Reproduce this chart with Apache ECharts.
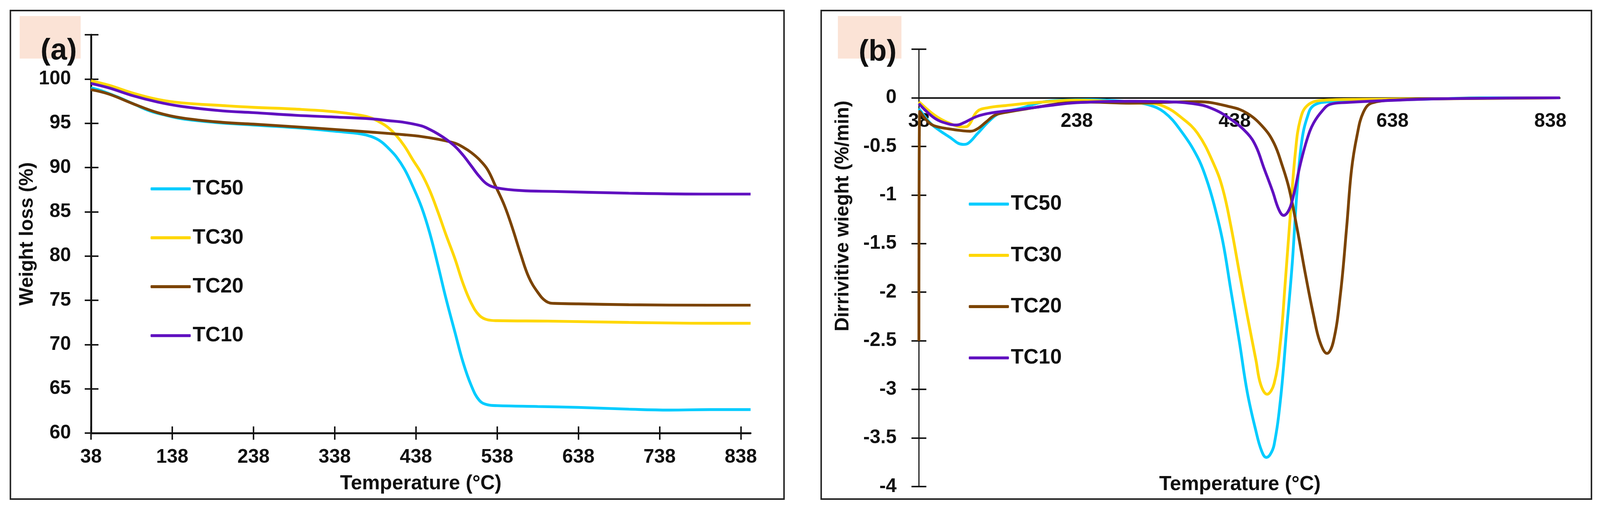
<!DOCTYPE html>
<html lang="en">
  <head>
    <meta charset="UTF-8" />
    <title>TGA / DTG - TC samples</title>
    <script src="https://cdn.jsdelivr.net/npm/echarts@6.0.0/dist/echarts.min.js"></script>
    <style>
      html,
      body {
        margin: 0;
        padding: 0;
        overflow: hidden;
        background: #fff;
      }
      #main {
        width: 100vw;
        height: 100vh;
      }
    </style>
  </head>
  <body>
    <div id="main"></div>
    <script type="text/javascript">
      // series names and colours
      const names = ["TC50", "TC30", "TC20", "TC10"]
      const colors = ["#00CCFF", "#FFD700", "#7B4300", "#6010C0"]

      // tick labels on the temperature axes
      const tempTicksA = [38, 138, 238, 338, 438, 538, 638, 738, 838]
      const tempTicksB = [38, 238, 438, 638, 838]

      // (a) weight loss (%) vs temperature (°C)
      const tc50Tga = [[38, 99.0], [50, 98.7], [70, 98.0], [90, 97.2], [110, 96.4], [130, 95.9], [150, 95.5], [190, 95.1], [238, 94.8], [290, 94.5], [338, 94.1], [370, 93.8], [383, 93.5], [394, 93.0], [404, 92.2], [414, 91.2], [424, 89.8], [434, 87.9], [445, 85.5], [455, 82.6], [465, 79.0], [475, 75.2], [486, 71.4], [496, 68.0], [506, 65.4], [516, 63.7], [526, 63.2], [538, 63.1], [588, 63.0], [638, 62.9], [700, 62.7], [750, 62.6], [800, 62.65], [850, 62.65]]
      const tc30Tga = [[38, 99.8], [60, 99.3], [90, 98.4], [120, 97.7], [150, 97.3], [200, 97.0], [238, 96.8], [290, 96.6], [338, 96.3], [370, 95.9], [383, 95.6], [394, 95.1], [404, 94.5], [414, 93.6], [424, 92.4], [434, 90.9], [445, 89.3], [455, 87.4], [465, 85.0], [475, 82.4], [486, 79.7], [496, 76.9], [506, 74.7], [516, 73.3], [526, 72.8], [538, 72.7], [600, 72.65], [700, 72.5], [800, 72.4], [850, 72.4]]
      const tc20Tga = [[38, 98.8], [60, 98.3], [90, 97.2], [120, 96.2], [150, 95.6], [200, 95.1], [238, 94.9], [290, 94.6], [338, 94.3], [383, 94.0], [424, 93.7], [445, 93.5], [465, 93.2], [486, 92.75], [496, 92.3], [506, 91.7], [516, 90.9], [526, 89.8], [536, 87.9], [547, 85.7], [557, 83.1], [567, 80.2], [577, 77.6], [588, 75.9], [598, 74.9], [608, 74.65], [638, 74.6], [700, 74.5], [800, 74.45], [850, 74.45]]
      const tc10Tga = [[38, 99.5], [60, 99.0], [90, 98.1], [120, 97.4], [150, 96.9], [200, 96.4], [238, 96.2], [290, 95.9], [338, 95.7], [383, 95.5], [404, 95.3], [424, 95.1], [445, 94.7], [455, 94.3], [465, 93.8], [475, 93.2], [486, 92.4], [496, 91.4], [506, 90.2], [516, 89.0], [526, 88.1], [538, 87.7], [567, 87.4], [608, 87.3], [700, 87.1], [800, 87.0], [850, 87.0]]

      // (b) derivative weight (%/min) vs temperature (°C)
      const tc50Dtg = [[38, -0.11], [50, -0.24], [58, -0.3], [76, -0.4], [94, -0.48], [100, -0.47], [112, -0.37], [127, -0.24], [140, -0.16], [166, -0.11], [194, -0.045], [220, -0.025], [256, -0.02], [286, -0.03], [307, -0.045], [328, -0.07], [349, -0.15], [370, -0.34], [391, -0.61], [402, -0.83], [412, -1.1], [423, -1.48], [433, -1.97], [444, -2.51], [454, -3.03], [465, -3.43], [472, -3.63], [478, -3.7], [483, -3.67], [488, -3.57], [496, -3.11], [504, -2.37], [511, -1.7], [517, -0.96], [523, -0.45], [530, -0.2], [538, -0.08], [559, -0.04], [600, -0.03], [650, -0.02], [700, -0.01], [750, 0], [800, 0], [850, 0]]
      const tc30Dtg = [[38, -0.04], [58, -0.18], [76, -0.26], [94, -0.3], [100, -0.29], [112, -0.14], [127, -0.1], [148, -0.08], [185, -0.05], [238, -0.025], [286, -0.04], [305, -0.055], [328, -0.055], [349, -0.09], [370, -0.2], [391, -0.365], [412, -0.69], [423, -0.94], [433, -1.31], [444, -1.8], [454, -2.24], [465, -2.7], [471, -2.95], [479, -3.05], [488, -2.94], [496, -2.51], [502, -1.91], [509, -1.15], [515, -0.555], [521, -0.23], [530, -0.08], [549, -0.026], [600, -0.015], [700, -0.01], [850, 0]]
      const tc20Dtg = [[38, -2.5], [39, -0.14], [50, -0.25], [58, -0.29], [76, -0.32], [94, -0.34], [103, -0.344], [112, -0.32], [123, -0.25], [134, -0.18], [148, -0.15], [185, -0.1], [220, -0.056], [256, -0.045], [305, -0.055], [391, -0.04], [433, -0.094], [454, -0.16], [475, -0.31], [488, -0.47], [498, -0.69], [507, -0.935], [517, -1.34], [528, -1.83], [538, -2.24], [546, -2.51], [555, -2.63], [563, -2.51], [572, -2.02], [580, -1.32], [586, -0.745], [593, -0.39], [601, -0.15], [612, -0.053], [650, -0.02], [700, -0.01], [850, 0]]
      const tc10Dtg = [[38, -0.06], [58, -0.21], [76, -0.27], [86, -0.28], [94, -0.26], [112, -0.19], [130, -0.155], [166, -0.12], [203, -0.08], [238, -0.05], [305, -0.036], [349, -0.04], [391, -0.067], [412, -0.12], [433, -0.22], [454, -0.365], [465, -0.5], [475, -0.72], [486, -0.96], [494, -1.15], [500, -1.21], [507, -1.15], [513, -0.99], [521, -0.69], [530, -0.42], [538, -0.26], [549, -0.134], [559, -0.067], [580, -0.048], [615, -0.034], [700, -0.01], [850, 0]]

      const tgaData = [tc50Tga, tc30Tga, tc20Tga, tc10Tga]
      const dtgData = [tc50Dtg, tc30Dtg, tc20Dtg, tc10Dtg]

      const font = "'Liberation Sans', Arial, sans-serif"
      const ink = "#111"

      const dom = document.getElementById("main")
      const chart = echarts.init(dom, null, { renderer: "canvas" })

      // layout is worked out on a 4306 x 1306 sheet and scaled to the real page
      const sx = chart.getWidth() / 4306
      const sy = chart.getHeight() / 1306
      const sf = Math.min(sx, sy)
      const X = v => v * sx
      const Y = v => v * sy
      const S = v => v * sf

      function tickAxis(extra) {
        return Object.assign(
          {
            type: "value",
            axisLine: { show: false },
            axisLabel: { show: false },
            splitLine: { show: false },
          },
          extra
        )
      }

      function lineSeries(name, data, color, xi, yi) {
        return {
          name: name,
          type: "line",
          xAxisIndex: xi,
          yAxisIndex: yi,
          data: data,
          symbol: "none",
          smooth: 0.4,
          lineStyle: { color: color, width: S(7.5) },
          itemStyle: { color: color },
        }
      }

      const series = []
      names.forEach((n, i) => {
        series.push(lineSeries(n, tgaData[i], colors[i], 0, 0))
      })
      names.forEach((n, i) => {
        series.push(lineSeries(n, dtgData[i], colors[i], 2, 2))
      })

      const labelStyle = {
        fontFamily: font,
        fontWeight: "bold",
        fontSize: S(52),
        color: ink,
      }
      const legendText = Object.assign({}, labelStyle, {
        fontSize: S(56),
        lineHeight: S(56),
      })
      const tickStyle = { color: ink, width: S(4) }

      function legendAt(left, top, gap) {
        return {
          data: names,
          orient: "vertical",
          left: X(left),
          top: Y(top),
          icon: "roundRect",
          itemWidth: S(108),
          itemHeight: S(8),
          itemGap: Y(gap),
          textStyle: legendText,
        }
      }

      function textAt(x, y, text, size, rot) {
        return {
          type: "text",
          x: X(x),
          y: Y(y),
          rotation: rot || 0,
          z: 11,
          style: {
            text: text,
            fontFamily: font,
            fontWeight: "bold",
            fontSize: S(size),
            fill: ink,
            align: "center",
            verticalAlign: "middle",
          },
        }
      }

      function boxAt(x, y, w, h, style) {
        return {
          type: "rect",
          shape: { x: X(x), y: Y(y), width: X(w), height: Y(h) },
          style: style,
          z: 10,
        }
      }

      const option = {
        animation: false,
        backgroundColor: "#fff",
        grid: [
          { left: X(245), top: Y(89), width: X(1775), height: Y(1020) },
          { left: X(2473), top: Y(126), width: X(1725), height: Y(1120) },
        ],
        legend: [legendAt(400, 452, 72), legendAt(2602, 491, 78)],
        xAxis: [
          {
            type: "value",
            gridIndex: 0,
            min: 38,
            max: 850,
            name: "Temperature (°C)",
            nameLocation: "middle",
            nameGap: Y(104),
            nameTextStyle: Object.assign({}, labelStyle, { fontSize: S(54) }),
            axisLine: { lineStyle: { color: ink, width: S(5) } },
            axisTick: { customValues: tempTicksA, length: Y(17), lineStyle: tickStyle },
            axisLabel: Object.assign({ customValues: tempTicksA, margin: Y(38) }, labelStyle),
            splitLine: { show: false },
          },
          tickAxis({
            gridIndex: 0,
            min: 38,
            max: 850,
            position: "bottom",
            axisTick: { customValues: tempTicksA, inside: true, length: Y(17), lineStyle: tickStyle },
          }),
          {
            type: "value",
            gridIndex: 1,
            min: 38,
            max: 850,
            axisLine: { onZero: true, lineStyle: { color: ink, width: S(4) } },
            axisTick: { show: false },
            axisLabel: { show: false },
            splitLine: { show: false },
          },
          // labels of (b) sit just under the zero line
          {
            type: "value",
            gridIndex: 1,
            min: 38,
            max: 850,
            position: "bottom",
            offset: -Y(995),
            axisLine: { show: false, onZero: false },
            axisTick: { show: false },
            axisLabel: Object.assign({ customValues: tempTicksB, margin: Y(36) }, labelStyle),
            splitLine: { show: false },
          },
        ],
        yAxis: [
          {
            type: "value",
            gridIndex: 0,
            min: 60,
            max: 105,
            interval: 5,
            name: "Weight loss (%)",
            nameLocation: "middle",
            nameGap: X(136),
            nameTextStyle: labelStyle,
            axisLine: { show: true, lineStyle: { color: ink, width: S(5) } },
            axisTick: { show: true, length: X(17), lineStyle: tickStyle },
            axisLabel: Object.assign(
              { margin: X(54), formatter: v => (v > 100 ? "" : String(v)) },
              labelStyle
            ),
            splitLine: { show: false },
          },
          tickAxis({
            gridIndex: 0,
            min: 60,
            max: 105,
            interval: 5,
            position: "left",
            axisTick: { show: true, inside: true, length: X(20), lineStyle: tickStyle },
          }),
          {
            type: "value",
            gridIndex: 1,
            min: -4,
            max: 0.5,
            interval: 0.5,
            position: "left",
            axisLine: { show: true, onZero: false, lineStyle: { color: ink, width: S(3) } },
            axisTick: { show: true, length: X(20), lineStyle: tickStyle },
            axisLabel: Object.assign(
              { margin: X(60), formatter: v => (v > 0 ? "" : String(v)) },
              labelStyle
            ),
            splitLine: { show: false },
          },
          tickAxis({
            gridIndex: 1,
            min: -4,
            max: 0.5,
            interval: 0.5,
            position: "left",
            axisLine: { show: false, onZero: false },
            axisTick: { show: true, inside: true, length: X(20), lineStyle: tickStyle },
          }),
        ],
        graphic: [
          boxAt(28, 27, 2082, 1251, { fill: "none", stroke: "#222", lineWidth: S(4) }),
          boxAt(2210, 27, 2073, 1251, { fill: "none", stroke: "#222", lineWidth: S(4) }),
          boxAt(53, 41, 164, 109, { fill: "#FBE3D6" }),
          boxAt(2255, 41, 171, 109, { fill: "#FBE3D6" }),
          textAt(158, 131, "(a)", 80),
          textAt(2362, 134, "(b)", 80),
          textAt(3337, 1241, "Temperature (°C)", 54),
          textAt(2269, 553, "Dirrivitive wieght (%/min)", 52, Math.PI / 2),
        ],
        series: series,
      }

      chart.setOption(option)
    </script>
  </body>
</html>
